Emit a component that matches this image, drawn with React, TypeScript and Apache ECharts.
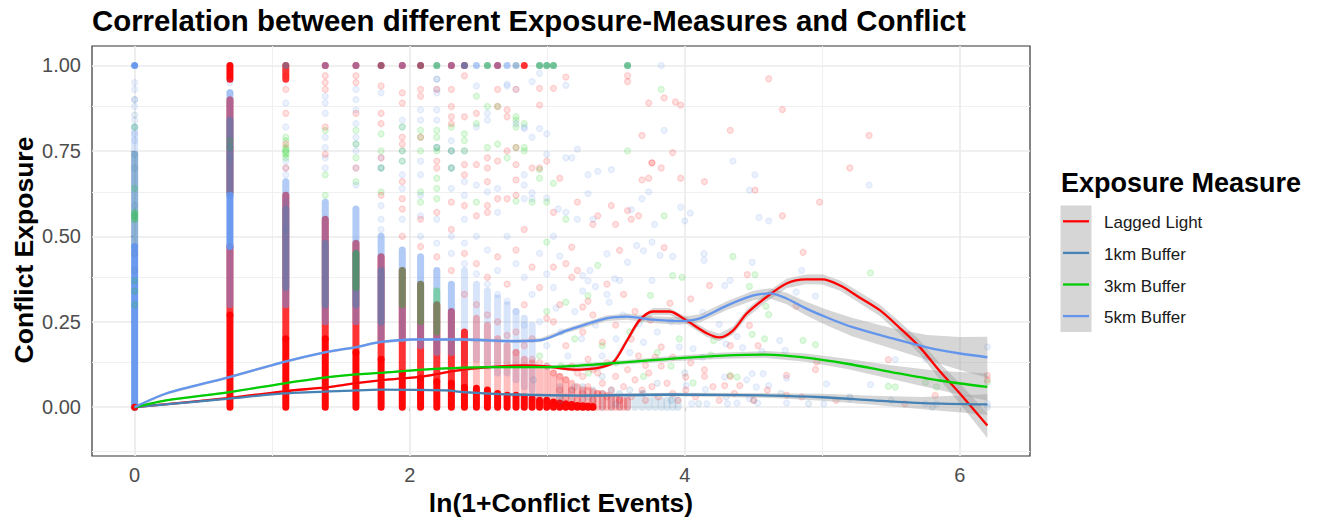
import React, { useEffect, useRef } from "react";
import * as echarts from "echarts";

const TITLE = "Correlation between different Exposure-Measures and Conflict";
const X_TITLE = "ln(1+Conflict Events)";
const Y_TITLE = "Conflict Exposure";
const LEGEND_TITLE = "Exposure Measure";
const MEASURES = ["Lagged Light", "1km Buffer", "3km Buffer", "5km Buffer"];
const COLORS = ["#FF0000", "#4682B4", "#00CD00", "#6495ED"];

const X_TICKS = [0, 2, 4, 6];
const X_MINOR = [1, 3, 5];
const Y_TICKS = [0, 0.25, 0.5, 0.75, 1];
const Y_MINOR = [-0.125, 0.125, 0.375, 0.625, 0.875];
const X_RANGE = [-0.31, 6.51];
const Y_RANGE = [-0.143, 1.057];

// Smoothers: [x, fit, half-width of confidence band]
const lightFit = [
  [0, 0, 0.003], [0.69, 0.027, 0.003], [1.1, 0.047, 0.003], [1.39, 0.058, 0.003], [1.61, 0.07, 0.003],
  [1.85, 0.081, 0.003], [2.1, 0.09, 0.003], [2.34, 0.107, 0.004], [2.58, 0.117, 0.004], [2.82, 0.122, 0.004],
  [3.0, 0.119, 0.005], [3.19, 0.11, 0.006], [3.38, 0.116, 0.007], [3.48, 0.131, 0.008], [3.58, 0.195, 0.009],
  [3.67, 0.254, 0.01], [3.77, 0.28, 0.01], [3.89, 0.28, 0.01], [4.01, 0.254, 0.01], [4.16, 0.216, 0.011],
  [4.25, 0.204, 0.011], [4.35, 0.224, 0.012], [4.45, 0.274, 0.012], [4.59, 0.321, 0.013], [4.74, 0.362, 0.014],
  [4.88, 0.374, 0.014], [5.0, 0.374, 0.015], [5.13, 0.356, 0.015], [5.27, 0.321, 0.016], [5.42, 0.283, 0.017],
  [5.56, 0.233, 0.018], [5.71, 0.175, 0.02], [5.85, 0.107, 0.024], [6.0, 0.04, 0.03], [6.2, -0.054, 0.036],
];
const km1Fit = [
  [0, 0, 0.002], [0.69, 0.025, 0.002], [1.08, 0.04, 0.002], [1.61, 0.049, 0.002], [1.78, 0.051, 0.002],
  [2.27, 0.049, 0.003], [2.39, 0.044, 0.003], [2.75, 0.037, 0.003], [3.24, 0.034, 0.004], [3.91, 0.037, 0.005],
  [4.64, 0.034, 0.007], [5.0, 0.029, 0.01], [5.37, 0.02, 0.013], [5.73, 0.012, 0.018], [6.2, 0.008, 0.03],
];
const km3Fit = [
  [0, 0, 0.003], [0.23, 0.02, 0.003], [0.69, 0.044, 0.003], [1.08, 0.069, 0.003], [1.39, 0.087, 0.003],
  [1.61, 0.096, 0.003], [1.78, 0.1, 0.003], [2.1, 0.11, 0.003], [2.58, 0.117, 0.004], [2.95, 0.117, 0.004],
  [3.43, 0.127, 0.006], [3.91, 0.142, 0.008], [4.28, 0.151, 0.009], [4.59, 0.154, 0.01], [4.88, 0.145, 0.012],
  [5.18, 0.127, 0.015], [5.51, 0.102, 0.02], [5.85, 0.078, 0.028], [6.2, 0.059, 0.04],
];
const km5Fit = [
  [0, 0, 0.004], [0.23, 0.04, 0.004], [0.69, 0.088, 0.004], [1.08, 0.132, 0.004], [1.39, 0.161, 0.004],
  [1.61, 0.176, 0.004], [1.78, 0.19, 0.004], [2.02, 0.198, 0.004], [2.39, 0.198, 0.005], [2.75, 0.193, 0.005],
  [2.95, 0.196, 0.006], [3.14, 0.224, 0.007], [3.43, 0.26, 0.008], [3.58, 0.265, 0.009], [3.77, 0.256, 0.01],
  [3.96, 0.252, 0.011], [4.11, 0.26, 0.012], [4.31, 0.298, 0.013], [4.5, 0.327, 0.014], [4.62, 0.333, 0.015],
  [4.74, 0.318, 0.017], [4.88, 0.289, 0.02], [5.03, 0.263, 0.023], [5.22, 0.234, 0.027], [5.51, 0.201, 0.03],
  [5.76, 0.175, 0.036], [6.0, 0.157, 0.048], [6.2, 0.146, 0.06],
];

// Over-plotted stacks of observations: [x, yFrom, yTo]
const lightSolidRuns = [
  [0, 0, 0], [0.693, 0, 0.27], [0.693, 0.96, 1], [1.099, 0, 0.2], [1.386, 0, 0.2], [1.609, 0, 0.16],
  [1.792, 0, 0.14], [1.946, 0, 0.1], [2.079, 0, 0.085], [2.197, 0, 0.075], [2.303, 0, 0.07], [2.398, 0, 0.058],
  [2.485, 0, 0.055], [2.565, 0, 0.05], [2.639, 0, 0.04], [2.708, 0, 0.035], [2.773, 0, 0.035], [2.833, 0, 0.03],
  [2.89, 0, 0.025], [2.944, 0, 0.02], [2.996, 0, 0.02], [3.045, 0, 0.015], [3.091, 0, 0.012], [3.135, 0, 0.01],
  [3.178, 0, 0.008], [3.219, 0, 0.005], [3.258, 0, 0.004], [3.296, 0, 0.003], [3.332, 0, 0.002],
];
const lightMediumRuns = [
  [0.693, 0.27, 0.47], [0.693, 0.63, 0.9], [1.099, 0.2, 0.62], [1.099, 0.96, 1], [1.386, 0.2, 0.55],
  [1.386, 1, 1], [1.609, 0.16, 0.48], [1.609, 1, 1], [1.792, 0.14, 0.44], [1.792, 1, 1],
  [1.946, 0.1, 0.4], [1.946, 1, 1], [2.079, 0.085, 0.36], [2.079, 1, 1], [2.197, 0.075, 0.3],
  [2.303, 0.07, 0.28], [2.303, 1, 1], [2.398, 0.058, 0.22], [2.398, 1, 1], [2.639, 1, 1], [2.833, 1, 1],
];
const lightFaintRuns = [
  [2.485, 0.055, 0.26], [2.565, 0.05, 0.24], [2.639, 0.04, 0.2], [2.708, 0.035, 0.18], [2.773, 0.035, 0.16],
  [2.833, 0.03, 0.14], [2.89, 0.025, 0.13], [2.944, 0.02, 0.11], [2.996, 0.02, 0.11], [3.045, 0.015, 0.1],
  [3.091, 0.012, 0.09], [3.135, 0.01, 0.08], [3.178, 0.01, 0.07], [3.219, 0.005, 0.06], [3.258, 0, 0.05],
  [3.296, 0, 0.05], [3.332, 0, 0.045], [3.367, 0, 0.04], [3.401, 0, 0.04], [3.434, 0, 0.035],
  [3.466, 0, 0.03], [3.497, 0, 0.03], [3.526, 0, 0.025], [3.555, 0, 0.02], [3.584, 0, 0.02],
];
const km1MediumRuns = [
  [0, 0.47, 0.74], [0.693, 0.62, 0.84], [1.099, 0.35, 0.58], [1.386, 0.3, 0.48], [1.609, 0.3, 0.45],
  [1.792, 0.25, 0.4], [2.197, 1, 1], [2.773, 1, 1], [2.565, 1, 1], [2.944, 1, 1], [2.996, 1, 1],
  [3.045, 1, 1], [3.584, 1, 1], [2.398, 1, 1], [1.099, 1, 1], [1.792, 1, 1], [2.079, 1, 1],
];
const km1FaintRuns = [
  [3.091, 0, 0.06], [3.178, 0, 0.05], [3.258, 0, 0.06], [3.332, 0, 0.05], [3.401, 0, 0.04],
  [3.466, 0, 0.05], [3.526, 0, 0.04], [3.584, 0, 0.03], [3.638, 0, 0.03], [3.689, 0, 0.04],
  [3.738, 0, 0.02], [3.784, 0, 0.03], [3.829, 0, 0.02], [3.871, 0, 0.02], [3.912, 0, 0.03], [3.951, 0, 0.02],
];
const km3MediumRuns = [
  [2.944, 1, 1], [2.996, 1, 1], [3.045, 1, 1], [3.584, 1, 1], [2.197, 1, 1], [2.565, 1, 1],
  [0, 0.55, 0.57], [1.099, 0.74, 0.76], [1.609, 0.35, 0.45], [1.946, 0.3, 0.4], [2.079, 0.25, 0.36],
  [2.197, 0.22, 0.34],
];
const km5SolidRuns = [[0, 0, 0.47], [0.693, 0.47, 0.62], [0, 1, 1]];
const km5MediumRuns = [
  [0.693, 0.3, 0.47], [0.693, 0.62, 0.92], [1.099, 0.3, 0.66], [1.386, 0.25, 0.6],
  [1.609, 0.25, 0.58], [1.792, 0.2, 0.5], [1.946, 0.2, 0.46], [2.079, 0.18, 0.44], [2.197, 0.16, 0.4],
  [2.303, 0.16, 0.36], [2.708, 1, 1], [2.485, 1, 1], [1.386, 1, 1], [1.609, 1, 1], [1.946, 1, 1],
  [2.303, 1, 1], [2.398, 1, 1], [2.639, 1, 1],
];
const km5FaintRuns = [
  [0, 0.47, 0.82], [2.398, 0.14, 0.4], [2.485, 0.14, 0.36], [2.565, 0.12, 0.34], [2.639, 0.1, 0.32],
  [2.708, 0.1, 0.3], [2.773, 0.08, 0.28], [2.833, 0.06, 0.26], [2.89, 0.05, 0.24],
];

// Individual observations
const lightPoints = [
  [1.099, 0.97], [1.099, 0.93], [1.099, 0.86], [1.099, 0.77], [1.099, 0.7],
  [1.386, 0.97], [1.386, 0.95], [1.386, 0.93], [1.386, 0.82], [1.386, 0.74],
  [1.609, 0.97], [1.609, 0.95], [1.609, 0.86], [1.609, 0.7],
  [1.792, 0.94], [1.792, 0.86], [1.792, 0.83], [1.792, 0.73], [1.792, 0.62],
  [1.946, 0.92], [1.946, 0.89], [1.946, 0.79], [1.946, 0.77], [1.946, 0.66], [1.946, 0.61], [1.946, 0.58], [1.946, 0.5],
  [2.079, 0.93], [2.079, 0.91], [2.079, 0.79], [2.079, 0.55], [2.079, 0.47],
  [2.197, 0.93], [2.197, 0.72], [2.197, 0.7], [2.197, 0.57], [2.197, 0.44],
  [2.303, 0.93], [2.303, 0.88], [2.303, 0.85], [2.303, 0.83], [2.303, 0.6], [2.303, 0.52], [2.303, 0.4],
  [2.398, 0.97], [2.398, 0.85], [2.398, 0.71], [2.398, 0.68], [2.398, 0.59], [2.398, 0.45], [2.398, 0.33],
  [2.485, 0.86], [2.485, 0.71], [2.485, 0.56], [2.485, 0.42], [2.485, 0.3],
  [2.565, 0.73], [2.565, 0.7], [2.565, 0.66], [2.565, 0.59], [2.565, 0.57], [2.565, 0.38], [2.565, 0.27],
  [2.639, 0.93], [2.639, 0.88], [2.639, 0.72], [2.639, 0.61], [2.639, 0.44], [2.639, 0.25],
  [2.708, 0.87], [2.708, 0.85], [2.708, 0.75], [2.708, 0.61], [2.708, 0.36], [2.708, 0.21],
  [2.773, 0.93], [2.773, 0.76], [2.773, 0.71], [2.773, 0.665], [2.773, 0.62], [2.773, 0.46], [2.773, 0.22], [2.773, 0.16],
  [2.833, 0.52], [2.833, 0.3], [2.833, 0.18],
  [2.89, 0.7], [2.89, 0.41], [2.89, 0.2], [2.89, 0.14],
  [2.944, 0.933], [2.944, 0.884], [2.944, 0.7], [2.944, 0.35], [2.944, 0.13],
  [2.996, 0.72], [2.996, 0.26], [2.996, 0.12],
  [3.045, 0.933], [3.045, 0.57], [3.045, 0.41], [3.045, 0.25], [3.045, 0.1],
  [3.091, 0.67], [3.091, 0.3], [3.091, 0.09], [3.091, 0.05],
  [3.135, 0.966], [3.135, 0.42], [3.135, 0.18], [3.135, 0.08], [3.135, 0.03],
  [3.178, 0.468], [3.178, 0.38], [3.178, 0.12], [3.178, 0.05],
  [3.219, 0.6], [3.219, 0.4], [3.219, 0.1], [3.219, 0.02],
  [3.258, 0.293], [3.258, 0.22], [3.258, 0.09], [3.258, 0.04],
  [3.296, 0.31], [3.296, 0.14], [3.296, 0.06],
  [3.332, 0.535], [3.332, 0.27], [3.332, 0.02], [3.332, 0.11],
  [3.367, 0.56], [3.367, 0.1], [3.367, 0.04], [3.401, 0.19], [3.401, 0.07],
  [3.434, 0.36], [3.434, 0.13], [3.434, 0.03], [3.466, 0.59], [3.466, 0.05],
  [3.497, 0.535], [3.497, 0.24], [3.497, 0.09], [3.526, 0.459], [3.526, 0.02],
  [3.555, 0.33], [3.555, 0.06], [3.584, 0.97], [3.584, 0.953], [3.584, 0.575], [3.584, 0.11],
  [3.611, 0.55], [3.611, 0.2], [3.611, 0.03], [3.638, 0.28], [3.638, 0.08], [3.664, 0.56], [3.664, 0.15],
  [3.689, 0.795], [3.689, 0.665], [3.689, 0.05], [3.714, 0.122], [3.714, 0.02],
  [3.738, 0.89], [3.738, 0.67], [3.738, 0.1], [3.75, 0.254], [3.761, 0.715], [3.761, 0.715], [3.761, 0.06],
  [3.784, 0.146], [3.807, 0.03], [3.829, 0.7], [3.829, 0.176], [3.829, 0.12], [3.85, 0.905], [3.85, 0.467],
  [3.871, 0.07], [3.892, 0.304], [3.912, 0.745], [3.912, 0.146], [3.912, 0.04], [3.932, 0.893], [3.951, 0.02],
  [3.97, 0.884], [3.97, 0.67], [4.007, 0.088], [4.007, 0.05], [4.043, 0.317], [4.043, 0.13], [4.078, 0.03],
  [4.143, 0.66], [4.143, 0.109], [4.143, 0.09], [4.18, 0.356], [4.205, 0.06], [4.25, 0.02], [4.29, 0.063],
  [4.331, 0.81], [4.331, 0.18], [4.331, 0.09], [4.36, 0.04], [4.4, 0.063], [4.454, 0.388], [4.47, 0.239],
  [4.5, 0.02], [4.511, 0.635], [4.533, 0.18], [4.6, 0.05], [4.61, 0.961], [4.71, 0.871], [4.71, 0.56],
  [4.74, 0.093], [4.74, 0.035], [4.81, 0.295], [4.85, 0.03], [4.86, 0.453], [4.95, 0.11], [4.96, 0.132],
  [4.98, 0.6], [5.1, 0.02], [5.2, 0.7], [5.34, 0.795], [5.48, 0.139], [5.6, 0.01], [5.82, 0.034],
  [6.2, 0.093], [6.2, 0.08],
];
const km1Points = [
  [0, 0.9], [0, 0.855], [0, 0.74], [0, 0.7], [0, 0.59], [0, 0.45], [0, 0.4],
  [0.693, 0.76], [0.693, 0.73], [1.099, 0.6], [1.099, 0.52],
  [1.609, 0.77], [1.792, 0.7], [1.946, 0.75], [2.197, 0.76], [2.303, 0.75], [2.398, 0.75], [2.303, 0.7],
  [2.773, 0.83], [2.197, 0.96],
  [2.9, 0.08], [3.0, 0.12], [3.2, 0.06], [3.4, 0.09], [3.6, 0.05], [3.8, 0.07], [4.0, 0.1],
  [3.1, 0.02], [3.3, 0.03], [3.5, 0.01], [3.7, 0.04], [3.9, 0.02], [4.1, 0.01], [4.3, 0.03], [4.5, 0.02],
  [4.7, 0.04], [4.9, 0.01], [5.2, 0.03], [5.5, 0.02], [5.8, 0.0], [6.2, 0.0],
];
const km3Points = [
  [0, 0.82], [0, 0.64], [0, 0.56], [0, 0.37], [0, 0.34], [0, 0.3],
  [0.693, 0.78], [0.693, 0.76],
  [1.099, 0.79], [1.099, 0.78], [1.099, 0.75], [1.099, 0.73],
  [1.386, 0.81], [1.386, 0.68], [1.386, 0.62],
  [1.609, 0.81], [1.609, 0.77], [1.609, 0.73], [1.609, 0.66],
  [1.792, 0.8], [1.792, 0.75], [1.792, 0.7], [1.792, 0.63],
  [1.946, 0.82], [1.946, 0.75], [1.946, 0.72],
  [2.079, 0.81], [2.079, 0.79], [2.079, 0.75], [2.079, 0.63], [2.079, 0.6],
  [2.197, 0.81], [2.197, 0.79], [2.197, 0.76], [2.197, 0.75], [2.197, 0.67], [2.197, 0.64], [2.197, 0.61],
  [2.303, 0.82], [2.303, 0.75], [2.303, 0.7],
  [2.398, 0.8], [2.398, 0.78], [2.398, 0.75],
  [2.485, 0.91], [2.485, 0.83], [2.485, 0.6],
  [2.565, 0.88], [2.565, 0.76], [2.639, 0.88], [2.639, 0.77], [2.708, 0.73],
  [2.773, 0.85], [2.773, 0.84], [2.773, 0.82], [2.773, 0.76], [2.773, 0.603],
  [2.833, 0.83], [2.833, 0.76], [2.833, 0.75], [2.89, 0.6],
  [2.944, 0.695], [2.944, 0.67], [2.944, 0.15], [2.996, 0.6], [2.996, 0.483], [2.996, 0.28], [3.045, 0.655],
  [3.1, 0.12], [3.135, 0.307], [3.135, 0.55], [3.2, 0.2], [3.296, 0.326], [3.3, 0.1], [3.367, 0.415],
  [3.4, 0.18], [3.5, 0.13], [3.584, 0.75], [3.6, 0.22], [3.7, 0.09], [3.75, 0.327], [3.8, 0.16],
  [3.829, 0.93], [3.85, 0.56], [3.9, 0.12], [3.912, 0.385], [3.96, 0.2], [3.98, 0.38],
  [4.06, 0.071], [4.19, 0.153], [4.21, 0.195], [4.33, 0.093], [4.35, 0.441], [4.38, 0.088], [4.47, 0.353],
  [4.49, 0.213], [4.51, 0.388], [4.58, 0.2], [4.59, 0.295], [4.61, 0.271], [4.86, 0.195], [4.95, 0.183],
  [5.35, 0.393], [5.48, 0.061], [5.53, 0.059], [5.75, 0.073], [5.83, 0.059], [6.2, 0.073],
];
const km5Points = [
  [0, 0.95], [0, 0.93], [0, 0.9], [0, 0.88], [0, 0.84], [0, 0.82], [0, 0.8], [0, 0.78],
  [0.693, 0.95], [0.693, 0.92],
  [1.099, 0.89], [1.099, 0.82], [1.099, 0.72], [1.099, 0.7], [1.099, 0.68],
  [1.386, 0.91], [1.386, 0.89], [1.386, 0.86], [1.386, 0.79], [1.386, 0.76], [1.386, 0.73], [1.386, 0.7],
  [1.609, 0.93], [1.609, 0.9], [1.609, 0.87], [1.609, 0.83], [1.609, 0.79], [1.609, 0.75], [1.609, 0.7], [1.609, 0.65],
  [1.792, 0.92], [1.792, 0.73], [1.792, 0.7], [1.792, 0.59], [1.792, 0.55], [1.792, 0.52],
  [1.946, 0.84], [1.946, 0.82], [1.946, 0.72], [1.946, 0.68], [1.946, 0.64], [1.946, 0.55],
  [2.079, 0.87], [2.079, 0.84], [2.079, 0.72], [2.079, 0.68], [2.079, 0.62], [2.079, 0.56], [2.079, 0.5],
  [2.197, 0.96], [2.197, 0.93], [2.197, 0.92], [2.197, 0.87], [2.197, 0.84], [2.197, 0.76], [2.197, 0.55], [2.197, 0.48],
  [2.303, 0.78], [2.303, 0.75], [2.303, 0.7], [2.303, 0.64], [2.303, 0.5], [2.303, 0.45],
  [2.398, 0.66], [2.398, 0.62], [2.398, 0.55], [2.398, 0.48], [2.398, 0.42],
  [2.485, 0.94], [2.485, 0.82], [2.485, 0.65], [2.485, 0.5], [2.485, 0.39],
  [2.565, 0.86], [2.565, 0.84], [2.565, 0.63], [2.565, 0.46], [2.565, 0.36],
  [2.639, 0.64], [2.639, 0.57], [2.639, 0.4], [2.639, 0.33],
  [2.708, 0.945], [2.708, 0.94], [2.708, 0.5], [2.708, 0.31],
  [2.773, 0.93], [2.773, 0.42], [2.773, 0.28],
  [2.833, 0.82], [2.833, 0.815], [2.833, 0.68], [2.833, 0.65], [2.833, 0.61], [2.833, 0.38], [2.833, 0.24],
  [2.89, 0.953], [2.89, 0.79], [2.89, 0.627], [2.89, 0.61], [2.89, 0.33],
  [2.944, 0.977], [2.944, 0.815], [2.944, 0.25], [2.944, 0.45],
  [2.996, 0.8], [2.996, 0.74], [2.996, 0.612], [2.996, 0.18], [2.996, 0.39],
  [3.045, 0.35], [3.045, 0.5], [3.063, 0.29], [3.08, 0.58], [3.091, 0.442], [3.1, 0.22],
  [3.135, 0.942], [3.135, 0.73], [3.135, 0.57], [3.15, 0.15], [3.178, 0.73], [3.2, 0.28],
  [3.219, 0.755], [3.219, 0.55], [3.25, 0.2], [3.258, 0.385], [3.258, 0.34],
  [3.296, 0.68], [3.296, 0.625], [3.296, 0.37], [3.31, 0.4], [3.332, 0.55], [3.35, 0.353], [3.35, 0.24],
  [3.367, 0.69], [3.4, 0.15], [3.434, 0.449], [3.434, 0.33], [3.45, 0.307], [3.466, 0.695], [3.49, 0.376],
  [3.5, 0.2], [3.526, 0.371], [3.55, 0.27], [3.584, 0.424], [3.6, 0.16], [3.611, 0.578],
  [3.65, 0.473], [3.67, 0.244], [3.689, 0.61], [3.7, 0.458], [3.7, 0.19], [3.738, 0.63], [3.761, 0.483],
  [3.761, 0.371], [3.78, 0.535], [3.8, 0.22], [3.82, 0.444], [3.829, 1.0], [3.85, 0.81], [3.9, 0.25],
  [3.912, 0.441], [3.96, 0.176], [3.97, 0.585], [4.0, 0.545], [4.01, 0.063], [4.04, 0.568], [4.05, 0.01],
  [4.06, 0.171], [4.13, 0.278], [4.13, 0.146], [4.14, 0.449], [4.14, 0.43], [4.15, 0.052], [4.16, 0.01],
  [4.25, 0.242], [4.29, 0.356], [4.29, 0.088], [4.3, 0.185], [4.31, 0.01], [4.33, 0.371], [4.35, 0.72],
  [4.38, 0.207], [4.38, 0.012], [4.42, 0.174], [4.45, 0.08], [4.47, 0.635], [4.47, 0.025], [4.49, 0.424],
  [4.49, 0.098], [4.51, 0.68], [4.52, 0.059], [4.53, 0.012], [4.54, 0.555], [4.56, 0.163], [4.57, 0.098],
  [4.61, 0.545], [4.61, 0.063], [4.69, 0.195], [4.73, 0.166], [4.74, 0.085], [4.74, 0.012], [4.81, 0.337],
  [4.85, 0.4], [4.95, 0.325], [5.01, 0.01], [5.03, 0.068], [5.2, 0.025], [5.34, 0.65], [5.35, 0.066],
  [5.53, 0.139], [5.75, 0.142], [5.75, 0.01], [5.83, 0.01], [6.2, 0.176], [6.2, 0.01],
];

const FONT = "'Liberation Sans', Arial, Helvetica, sans-serif";

function rgba(hex: string, a: number) {
  const n = parseInt(hex.slice(1), 16);
  return `rgba(${(n >> 16) & 255},${(n >> 8) & 255},${n & 255},${a})`;
}

function runSeries(runs: number[][], color: string, alpha: number, z: number) {
  return {
    type: "custom",
    silent: true,
    z,
    data: runs,
    encode: { x: 0, y: [1, 2] },
    renderItem: (params: any, api: any) => {
      const x = api.value(0);
      const p0 = api.coord([x, api.value(1)]);
      const p1 = api.coord([x, api.value(2)]);
      const d = 7;
      const top = Math.min(p0[1], p1[1]);
      const h = Math.abs(p1[1] - p0[1]);
      return {
        type: "rect",
        shape: { x: p0[0] - d / 2, y: top - d / 2, width: d, height: h + d, r: d / 2 },
        style: { fill: rgba(color, alpha) },
      };
    },
  };
}

function pointSeries(name: string, pts: number[][], color: string) {
  return {
    type: "scatter",
    name,
    silent: true,
    z: 12,
    data: pts,
    symbol: "circle",
    symbolSize: 6,
    itemStyle: { color: rgba(color, 0.15), borderColor: rgba(color, 0.18), borderWidth: 1.3 },
  };
}

function bandSeries(fit: number[][]) {
  return {
    type: "custom",
    silent: true,
    z: 13,
    clip: true,
    data: fit.map((r) => [r[0], r[1] - r[2], r[1] + r[2]]),
    encode: { x: 0, y: [1, 2] },
    renderItem: (params: any, api: any) => {
      if (params.dataIndex !== 0) return null;
      const upper = fit.map((r) => api.coord([r[0], r[1] + r[2]]));
      const lower = fit.map((r) => api.coord([r[0], r[1] - r[2]])).reverse();
      return {
        type: "polygon",
        shape: { points: upper.concat(lower) },
        style: { fill: "rgba(153,153,153,0.4)" },
      };
    },
  };
}

function fitSeries(name: string, fit: number[][], color: string) {
  return {
    type: "line",
    name,
    silent: true,
    z: 14,
    data: fit.map((r) => [r[0], r[1]]),
    showSymbol: false,
    symbol: "none",
    smooth: 0.3,
    lineStyle: { color, width: 2.3 },
  };
}

function gridLines(xs: number[], ys: number[], color: string, width: number) {
  return {
    type: "scatter",
    silent: true,
    z: 1,
    data: [],
    markLine: {
      z: 1,
      silent: true,
      symbol: ["none", "none"],
      label: { show: false },
      emphasis: { disabled: true },
      lineStyle: { color, width, type: "solid" },
      data: [...xs.map((v) => ({ xAxis: v })), ...ys.map((v) => ({ yAxis: v }))],
    },
  };
}

export default function App() {
  const ref = useRef<HTMLDivElement>(null);
  useEffect(() => {
    if (!ref.current) return;
    const chart = echarts.init(ref.current, null, { renderer: "svg" });
    const legendTop = 205.5;
    const keyH = 31.6;
    const legendGraphics: any[] = [
      {
        type: "text",
        x: 1061,
        y: 183,
        style: { text: LEGEND_TITLE, font: `bold 27px ${FONT}`, fill: "#000", textVerticalAlign: "middle" },
      },
      {
        type: "rect",
        shape: { x: 1060.5, y: legendTop, width: 31, height: keyH * 4 },
        style: { fill: "#D6D6D6" },
      },
    ];
    MEASURES.forEach((m, i) => {
      const cy = legendTop + keyH * (i + 0.5);
      legendGraphics.push({
        type: "line",
        shape: { x1: 1063, y1: cy, x2: 1089, y2: cy },
        style: { stroke: COLORS[i], lineWidth: 2.3 },
      });
      legendGraphics.push({
        type: "text",
        x: 1104,
        y: cy + 1.5,
        style: { text: m, font: `17px ${FONT}`, fill: "#1a1a1a", textVerticalAlign: "middle" },
      });
    });

    const option: any = {
      animation: false,
      backgroundColor: "#ffffff",
      grid: {
        left: 92,
        top: 46,
        width: 938,
        height: 410,
        show: true,
        borderColor: "#333333",
        borderWidth: 1.2,
        backgroundColor: "#ffffff",
      },
      xAxis: {
        type: "value",
        min: X_RANGE[0],
        max: X_RANGE[1],
        axisLine: { show: false },
        splitLine: { show: false },
        axisTick: { show: true, customValues: X_TICKS, length: 4, lineStyle: { color: "#333333", width: 1.1 } },
        axisLabel: {
          customValues: X_TICKS,
          color: "#4D4D4D",
          fontSize: 20,
          fontFamily: FONT,
          margin: 9,
          formatter: (v: number) => String(v),
        },
      },
      yAxis: {
        type: "value",
        min: Y_RANGE[0],
        max: Y_RANGE[1],
        axisLine: { show: false },
        splitLine: { show: false },
        axisTick: { show: true, customValues: Y_TICKS, length: 4, lineStyle: { color: "#333333", width: 1.1 } },
        axisLabel: {
          customValues: Y_TICKS,
          color: "#4D4D4D",
          fontSize: 20,
          fontFamily: FONT,
          margin: 11,
          formatter: (v: number) => v.toFixed(2),
        },
      },
      graphic: [
        {
          type: "text",
          x: 92,
          y: 20,
          style: { text: TITLE, font: `bold 29.4px ${FONT}`, fill: "#000", textVerticalAlign: "middle" },
        },
        {
          type: "text",
          x: 561,
          y: 503,
          style: {
            text: X_TITLE,
            font: `bold 26.5px ${FONT}`,
            fill: "#000",
            textAlign: "center",
            textVerticalAlign: "middle",
          },
        },
        {
          type: "text",
          x: 24,
          y: 250,
          rotation: Math.PI / 2,
          style: {
            text: Y_TITLE,
            font: `bold 26.5px ${FONT}`,
            fill: "#000",
            textAlign: "center",
            textVerticalAlign: "middle",
          },
        },
        ...legendGraphics,
      ],
      series: [
        gridLines(X_MINOR, Y_MINOR, "#F0F0F0", 1),
        gridLines(X_TICKS, Y_TICKS, "#EBEBEB", 1.7),
        runSeries(km5FaintRuns, COLORS[3], 0.25, 6),
        runSeries(km1FaintRuns, COLORS[1], 0.2, 6),
        runSeries(lightFaintRuns, COLORS[0], 0.25, 6),
        runSeries(lightMediumRuns, COLORS[0], 0.8, 7),
        runSeries(km5MediumRuns, COLORS[3], 0.5, 8),
        runSeries(km1MediumRuns, COLORS[1], 0.5, 8),
        runSeries(km3MediumRuns, COLORS[2], 0.3, 8),
        runSeries(km5SolidRuns, COLORS[3], 0.95, 9),
        runSeries(lightSolidRuns, COLORS[0], 0.97, 10),
        pointSeries(MEASURES[3], km5Points, COLORS[3]),
        pointSeries(MEASURES[2], km3Points, COLORS[2]),
        pointSeries(MEASURES[1], km1Points, COLORS[1]),
        pointSeries(MEASURES[0], lightPoints, COLORS[0]),
        bandSeries(lightFit),
        bandSeries(km1Fit),
        bandSeries(km3Fit),
        bandSeries(km5Fit),
        fitSeries(MEASURES[0], lightFit, COLORS[0]),
        fitSeries(MEASURES[1], km1Fit, COLORS[1]),
        fitSeries(MEASURES[2], km3Fit, COLORS[2]),
        fitSeries(MEASURES[3], km5Fit, COLORS[3]),
      ],
    };
    chart.setOption(option);
    return () => chart.dispose();
  }, []);
  return (
    <div
      ref={ref}
      style={{ position: "fixed", left: 0, top: 0, width: 1322, height: 524, background: "#fff" }}
    />
  );
}
